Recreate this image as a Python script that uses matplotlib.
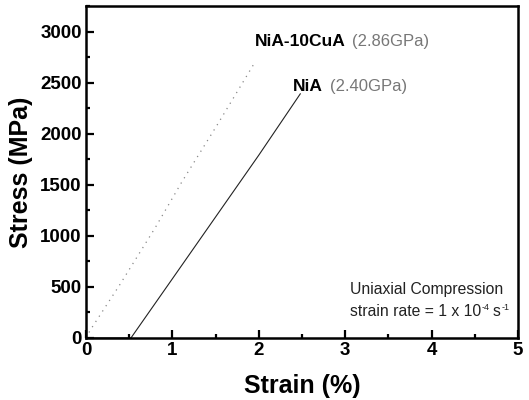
import matplotlib
matplotlib.use('Agg')
from matplotlib import pyplot as plt
from matplotlib.ticker import MultipleLocator

plt.rcParams['font.family'] = ['Liberation Sans', 'DejaVu Sans']

# NiA-10CuA (dotted grey curve)
cua_strain = [0.0, 0.05, 0.39, 0.80, 1.11, 1.52, 1.96]
cua_stress = [0, 78, 520, 1078, 1529, 2088, 2706]
# NiA (solid black curve)
nia_strain = [0.0, 0.52, 1.00, 1.50, 2.00, 2.48]
nia_stress = [0, 0, 580, 1185, 1790, 2390]

fig = plt.figure(figsize=(5.29, 4.0), dpi=100)
ax = fig.add_axes([86 / 529., 1 - 338 / 400., (518 - 86) / 529., (338 - 6) / 400.])

ax.plot(cua_strain, cua_stress, color='#888888', lw=0.9, linestyle=(0, (1, 4)))
ax.plot(nia_strain, nia_stress, color='#222222', lw=0.8)

ax.set_xlim(0, 5)
ax.set_ylim(0, 3250)
ax.xaxis.set_major_locator(MultipleLocator(1))
ax.xaxis.set_minor_locator(MultipleLocator(0.5))
ax.yaxis.set_major_locator(MultipleLocator(500))
ax.yaxis.set_minor_locator(MultipleLocator(250))
ax.tick_params(which='both', direction='in', top=False, right=False, width=1.6)
ax.tick_params(which='major', length=6, labelsize=13.5, pad=3)
ax.tick_params(which='minor', length=3)
for lab in ax.get_xticklabels() + ax.get_yticklabels():
    lab.set_fontweight('bold')
for s in ax.spines.values():
    s.set_linewidth(1.8)

ax.set_xlabel('Strain (%)', fontsize=18, fontweight='bold', labelpad=11)
ax.set_ylabel('Stress (MPa)', fontsize=18, fontweight='bold', labelpad=5)

ax.text(1.96, 2900, 'NiA-10CuA', fontsize=12.5, fontweight='bold', va='center')
ax.text(3.08, 2900, '(2.86GPa)', fontsize=12, color='#777777', va='center')
ax.text(2.40, 2460, 'NiA', fontsize=12.5, fontweight='bold', va='center')
ax.text(2.82, 2460, '(2.40GPa)', fontsize=12, color='#777777', va='center')

ax.text(3.05, 470, 'Uniaxial Compression', fontsize=11.3, color='#222222', va='center')
t1 = ax.text(3.05, 255, 'strain rate = 1 x 10', fontsize=11.3, color='#222222', va='center')
t2 = ax.annotate('-4', xy=(1, 1), xycoords=t1, xytext=(0.5, -2.5), textcoords='offset points',
                 fontsize=6.5, color='#222222', va='center', ha='left')
t3 = ax.annotate('s', xy=(1, 0.5), xycoords=(t2, t1), xytext=(2.5, 0), textcoords='offset points',
                 fontsize=11.3, color='#222222', va='center', ha='left')
ax.annotate('-1', xy=(1, 1), xycoords=(t3, t1), xytext=(0.5, -2.5), textcoords='offset points',
            fontsize=6.5, color='#222222', va='center', ha='left')

fig.savefig('out.png', dpi=100)
